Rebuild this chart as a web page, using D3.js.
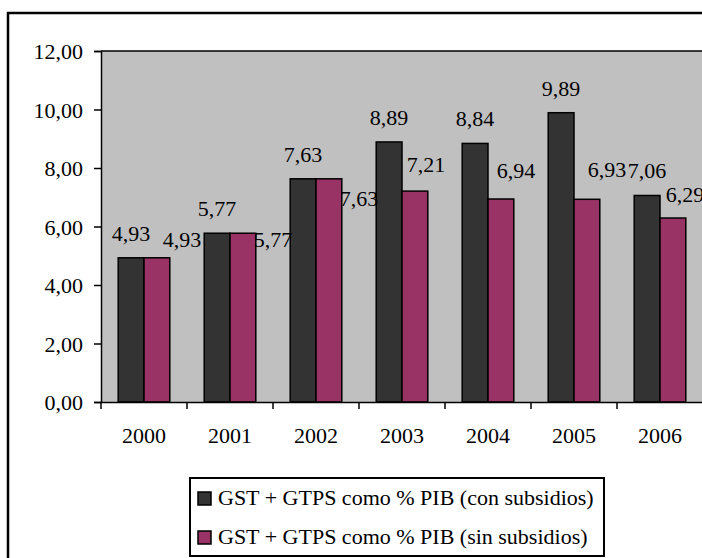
<!DOCTYPE html>
<html>
<head>
<meta charset="utf-8">
<script src="https://cdn.jsdelivr.net/npm/d3@7"></script>
<style>
  body { margin: 0; background: #fff; }
  svg text { font-family: 'Liberation Serif', 'DejaVu Serif', serif !important; fill: #000; }
</style>
</head>
<body>
<div id="chart"></div>
<script>
// datos
var years = ["2000", "2001", "2002", "2003", "2004", "2005", "2006"];
var conSubsidios = [4.93, 5.77, 7.63, 8.89, 8.84, 9.89, 7.06];
var sinSubsidios = [4.93, 5.77, 7.63, 7.21, 6.94, 6.93, 6.29];
var seriesNames = ["GST + GTPS como % PIB (con subsidios)", "GST + GTPS como % PIB (sin subsidios)"];
var yTicks = [0, 2, 4, 6, 8, 10, 12];

// las etiquetas de la serie rosa estan desplazadas a mano en el original
var pinkLabelDx = [25, 30, 30, 11, 15, 20, 12];
var pinkLabelDy = [-11, 14, 27, -19, -21, -22, -16];

var width = 702;
var height = 558;
var padding = {top: 51, left: 101, bottom: 156};
var colors = ["#333333", "#993366"];
var serif = "'Liberation Serif', 'DejaVu Serif', serif";

var locale = d3.formatLocale({decimal: ",", thousands: ".", grouping: [3], currency: ["", ""]});
var fmt = locale.format(".2f");

var svg = d3.select("#chart").append("svg").attr("width", width).attr("height", height)
    .attr("font-family", serif);

// borde exterior (cortado a la derecha y abajo)
svg.append("rect")
    .attr("x", 8).attr("y", 13)
    .attr("width", 760).attr("height", 600)
    .attr("fill", "none").attr("stroke", "#000").attr("stroke-width", 2.5);

var x = d3.scaleBand()
    .domain(years)
    .range([padding.left, padding.left + 86 * years.length]);

var y = d3.scaleLinear()
    .domain([0, 12])
    .range([height - padding.bottom, padding.top]);

var barW = x.bandwidth() * 0.3;
var groupOff = (x.bandwidth() - 2 * barW) / 2;

// area del grafico
svg.append("rect")
    .attr("x", padding.left).attr("y", y(12))
    .attr("width", width).attr("height", y(0) - y(12))
    .attr("fill", "#c0c0c0");
svg.append("line")
    .attr("x1", padding.left).attr("x2", width)
    .attr("y1", y(12)).attr("y2", y(12))
    .attr("stroke", "#000").attr("stroke-width", 1.5);

// barras
var series = [conSubsidios, sinSubsidios];
series.forEach(function (vals, s) {
    svg.append("g").selectAll("rect")
        .data(vals)
        .enter()
        .append("rect")
        .attr("x", function (d, i) { return x(years[i]) + groupOff + s * barW; })
        .attr("y", function (d) { return y(d); })
        .attr("width", barW)
        .attr("height", function (d) { return y(0) - y(d); })
        .attr("fill", colors[s])
        .attr("stroke", "#000")
        .attr("stroke-width", 1.5);
});

// ejes
var yAxis = d3.axisLeft(y).tickValues(yTicks).tickSize(7).tickPadding(11).tickFormat(fmt);
var gy = svg.append("g").attr("transform", "translate(" + padding.left + ",0)").call(yAxis)
    .attr("font-family", serif);
gy.select(".domain").attr("stroke-width", 1.5);
gy.selectAll(".tick line").attr("stroke-width", 1.5);
gy.selectAll("text").attr("font-size", "22px").attr("dy", "0.35em");

var xAxis = d3.axisBottom(x).tickSize(0).tickPadding(26);
var gx = svg.append("g").attr("transform", "translate(0," + y(0) + ")").call(xAxis)
    .attr("font-family", serif);
gx.select(".domain").attr("stroke-width", 1.5);
gx.selectAll("text").attr("font-size", "22px").attr("dy", "0.7em");

// marcas entre categorias
svg.append("g").selectAll("line")
    .data(years)
    .enter()
    .append("line")
    .attr("x1", function (d) { return x(d); })
    .attr("x2", function (d) { return x(d); })
    .attr("y1", y(0))
    .attr("y2", y(0) + 7)
    .attr("stroke", "#000")
    .attr("stroke-width", 1.5);

// etiquetas de datos
svg.append("g").selectAll("text")
    .data(conSubsidios)
    .enter()
    .append("text")
    .attr("font-size", "22px")
    .attr("text-anchor", "middle")
    .attr("x", function (d, i) { return x(years[i]) + groupOff + barW / 2; })
    .attr("y", function (d) { return y(d) - 17; })
    .text(function (d) { return fmt(d); });

svg.append("g").selectAll("text")
    .data(sinSubsidios)
    .enter()
    .append("text")
    .attr("font-size", "22px")
    .attr("text-anchor", "middle")
    .attr("x", function (d, i) { return x(years[i]) + groupOff + barW * 1.5 + pinkLabelDx[i]; })
    .attr("y", function (d, i) { return y(d) + pinkLabelDy[i]; })
    .text(function (d) { return fmt(d); });

// leyenda
var legend = svg.append("g");
legend.append("rect")
    .attr("x", 190).attr("y", 478)
    .attr("width", 414).attr("height", 78)
    .attr("fill", "#fff").attr("stroke", "#000").attr("stroke-width", 2);

var item = legend.selectAll(".item")
    .data(seriesNames)
    .enter()
    .append("g")
    .attr("class", "item")
    .attr("transform", function (d, i) { return "translate(198," + (492 + i * 39) + ")"; });

item.append("rect")
    .attr("width", 13).attr("height", 13)
    .attr("fill", function (d, i) { return colors[i]; })
    .attr("stroke", "#000").attr("stroke-width", 1.5);

item.append("text")
    .attr("x", 20).attr("y", 13)
    .attr("font-size", "22px")
    .text(function (d) { return d; });
</script>
</body>
</html>
